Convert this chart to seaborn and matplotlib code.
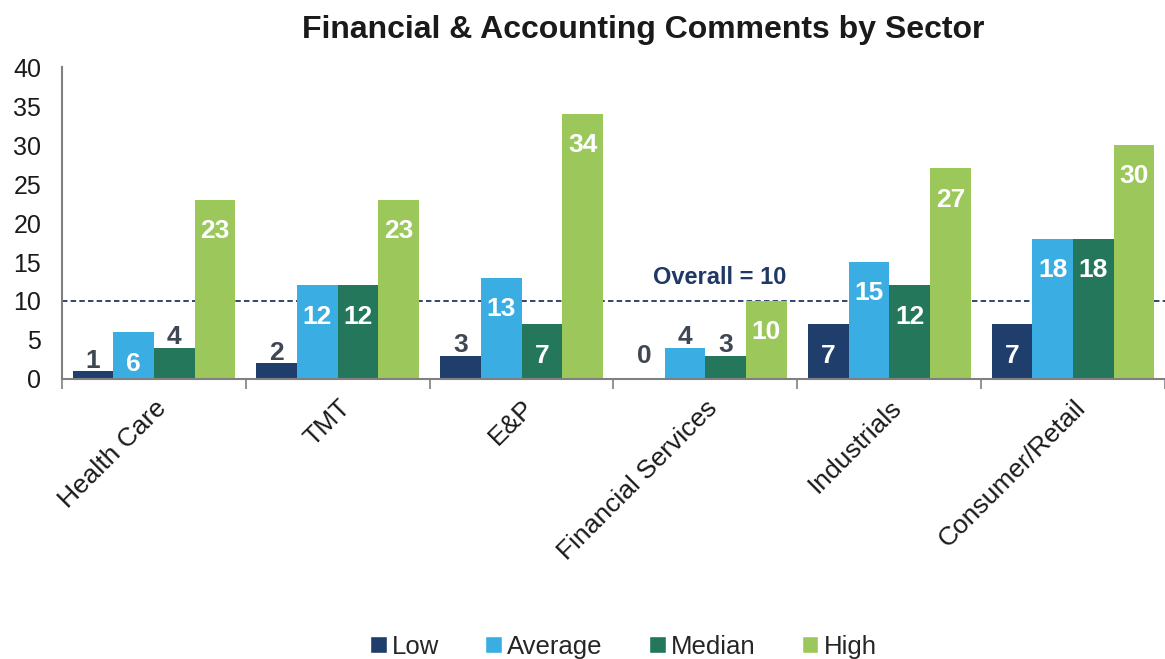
import pandas as pd
import matplotlib.pyplot as plt
import seaborn as sns
from matplotlib.patches import Patch

# values
sectors = ['Health Care', 'TMT', 'E&P', 'Financial Services', 'Industrials', 'Consumer/Retail']
levels = ['Low', 'Average', 'Median', 'High']
low = [1, 2, 3, 0, 7, 7]
average = [6, 12, 13, 4, 15, 18]
median = [4, 12, 7, 3, 12, 18]
high = [23, 23, 34, 10, 27, 30]
overall = 10

colors = ['#1f3e6b', '#3aaee2', '#24775b', '#9cc85b']
label_dark = '#3f4752'
navy = '#1f3864'

rows = []
for lvl, vals in zip(levels, [low, average, median, high]):
    for s, v in zip(sectors, vals):
        rows.append({'sector': s, 'level': lvl, 'count': v})
df = pd.DataFrame(rows)

sns.set_style('white')
plt.rcParams['font.family'] = ['Liberation Sans', 'DejaVu Sans']

fig = plt.figure(figsize=(11.65, 6.59), dpi=100)
ax = fig.add_axes([0.0532, 0.4249, 0.9468, 0.4734])

sns.barplot(data=df, x='sector', y='count', hue='level', order=sectors,
            hue_order=levels, palette=colors, saturation=1, width=0.885,
            edgecolor='none', legend=False, ax=ax)

# value labels: white inside tall bars, dark above short ones
for cont, lvl in zip(ax.containers, levels):
    for bar, v in zip(cont, df[df.level == lvl]['count']):
        cx = bar.get_x() + bar.get_width() / 2
        if v >= 5:
            ax.annotate(str(v), (cx, v), xytext=(0, -14), textcoords='offset points',
                        ha='center', va='top', fontsize=19, fontweight='bold',
                        color='white')
        else:
            off = 8 if v == 0 else -1
            ax.annotate(str(v), (cx, v), xytext=(0, off), textcoords='offset points',
                        ha='center', va='bottom', fontsize=19, fontweight='bold',
                        color=label_dark)

ax.axhline(overall, color=navy, ls=(0, (3, 1.8)), lw=1.3, zorder=0.5)
ax.text(3.08, 13.0, f'Overall = {overall}', ha='center', va='center',
        fontsize=17, fontweight='bold', color=navy)

ax.set_ylim(0, 40)
ax.set_yticks(range(0, 41, 5))
ax.set_xlim(-0.5, 5.5)
ax.set_xlabel('')
ax.set_ylabel('')
ax.set_xticks(range(len(sectors)))
ax.set_xticklabels(sectors, rotation=45, ha='right', rotation_mode='anchor',
                   fontsize=19, color='#1a1a1a')
ax.set_xticks([i - 0.5 for i in range(len(sectors) + 1)], minor=True)
ax.tick_params(axis='x', which='major', length=0, pad=12)
ax.tick_params(axis='x', which='minor', length=7, color='#808080', width=1.2,
               direction='out', bottom=True)
ax.tick_params(axis='y', length=6, color='#808080', width=1.2, direction='out',
               labelsize=18, labelcolor='#1a1a1a', pad=9)
for side in ['top', 'right']:
    ax.spines[side].set_visible(False)
for side in ['left', 'bottom']:
    ax.spines[side].set_color('#808080')
    ax.spines[side].set_linewidth(1.5)

fig.text(0.552, 0.955, 'Financial & Accounting Comments by Sector', ha='center',
         va='center', fontsize=23, fontweight='bold', color='#1a1a1a')

handles = [Patch(facecolor=c, label=l) for c, l in zip(colors, levels)]
fig.legend(handles=handles, loc='lower center', bbox_to_anchor=(0.535, -0.035),
           ncol=4, frameon=False, fontsize=18.5, handlelength=0.65, handleheight=0.65,
           handletextpad=0.2, columnspacing=1.8)

fig.savefig('out.png', dpi=100)
